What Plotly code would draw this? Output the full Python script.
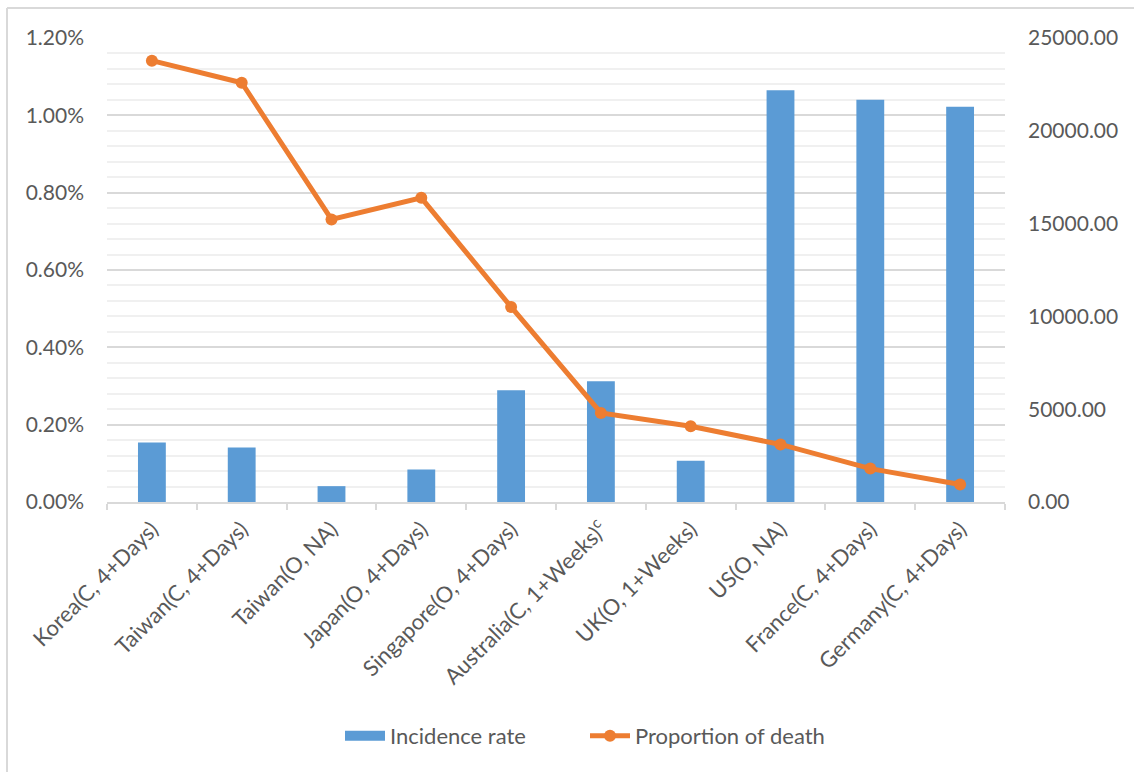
import plotly.graph_objects as go

categories = [
    "Korea(C, 4+Days)", "Taiwan(C, 4+Days)", "Taiwan(O, NA)", "Japan(O, 4+Days)",
    "Singapore(O, 4+Days)", "Australia(C, 1+Weeks)<sup>c</sup>", "UK(O, 1+Weeks)",
    "US(O, NA)", "France(C, 4+Days)", "Germany(C, 4+Days)",
]
# Incidence rate (%), left axis
incidence_rate = [0.154, 0.141, 0.041, 0.084, 0.289, 0.312, 0.107, 1.065, 1.040, 1.022]
# Proportion of death, right axis
proportion_death = [23780, 22590, 15225, 16390, 10510, 4800, 4080, 3100, 1800, 940]

left_ticks = [0, 0.2, 0.4, 0.6, 0.8, 1.0, 1.2]
right_ticks = [0, 5000, 10000, 15000, 20000, 25000]

W, H = 1134, 772
L, R, T, B = 107, 129, 38, 270
pw, ph = W - L - R, H - T - B

def px_x(x):
    return (x - L) / pw

def px_y(y):
    return (H - B - y) / ph

FONT = "Lato"
TXT = "#595959"
BLUE = "#5B9BD5"
ORANGE = "#ED7D31"

fig = go.Figure()
fig.add_trace(go.Bar(
    x=categories, y=incidence_rate, name="Incidence rate",
    marker=dict(color=BLUE, line=dict(width=0)), width=0.31, yaxis="y",
    showlegend=False,
))
# legend-only entry giving the wide bar swatch
fig.add_trace(go.Scatter(
    x=[None], y=[None], name="Incidence rate", mode="lines",
    line=dict(color=BLUE, width=14), yaxis="y", showlegend=True,
))
fig.add_trace(go.Scatter(
    x=categories, y=proportion_death, name="Proportion of death", mode="lines+markers",
    line=dict(color=ORANGE, width=5), marker=dict(color=ORANGE, size=12),
    yaxis="y2",
))

fig.update_layout(
    width=W, height=H,
    margin=dict(l=L, r=R, t=T, b=B, autoexpand=False),
    paper_bgcolor="white", plot_bgcolor="white",
    font=dict(family=FONT, size=21, color=TXT),
    showlegend=True,
    legend=dict(orientation="h", x=px_x(585), xanchor="center", y=px_y(736), yanchor="middle",
                font=dict(size=22, color=TXT), traceorder="normal", itemwidth=40,
                entrywidth=190),
    xaxis=dict(
        type="category", range=[-0.5, 9.5], tickangle=-45,
        showline=True, linecolor="#d9d9d9", linewidth=1.5,
        ticks="outside", ticklen=6, tickcolor="#d9d9d9", tickwidth=1.5,
        tickson="boundaries", showgrid=False, ticklabelstandoff=4,
        tickfont=dict(size=22, color=TXT, family=FONT),
    ),
    yaxis=dict(
        range=[0, 1.2], tickvals=left_ticks, ticktext=[f"{v:.2f}%" for v in left_ticks],
        showgrid=True, gridcolor="#d9d9d9", gridwidth=1.5,
        minor=dict(dtick=0.04, showgrid=True, gridcolor="#f0f0f0", gridwidth=1.5, tick0=0),
        zeroline=False, showline=False, ticks="", ticklabelstandoff=22,
        tickfont=dict(size=21, color=TXT, family=FONT),
    ),
    yaxis2=dict(
        range=[0, 25000], tickvals=right_ticks, ticktext=[f"{v:.2f}" for v in right_ticks],
        overlaying="y", side="right", showgrid=False, zeroline=False, showline=False,
        ticks="", ticklabelstandoff=22,
        tickfont=dict(size=21, color=TXT, family=FONT),
    ),
    shapes=[
        dict(type="line", xref="paper", yref="paper", x0=px_x(7), x1=px_x(1134),
             y0=px_y(8), y1=px_y(8), line=dict(color="#d9d9d9", width=2)),
        dict(type="line", xref="paper", yref="paper", x0=px_x(7), x1=px_x(7),
             y0=px_y(8), y1=px_y(772), line=dict(color="#d9d9d9", width=2)),
    ],
)

fig.write_html("out.html")
